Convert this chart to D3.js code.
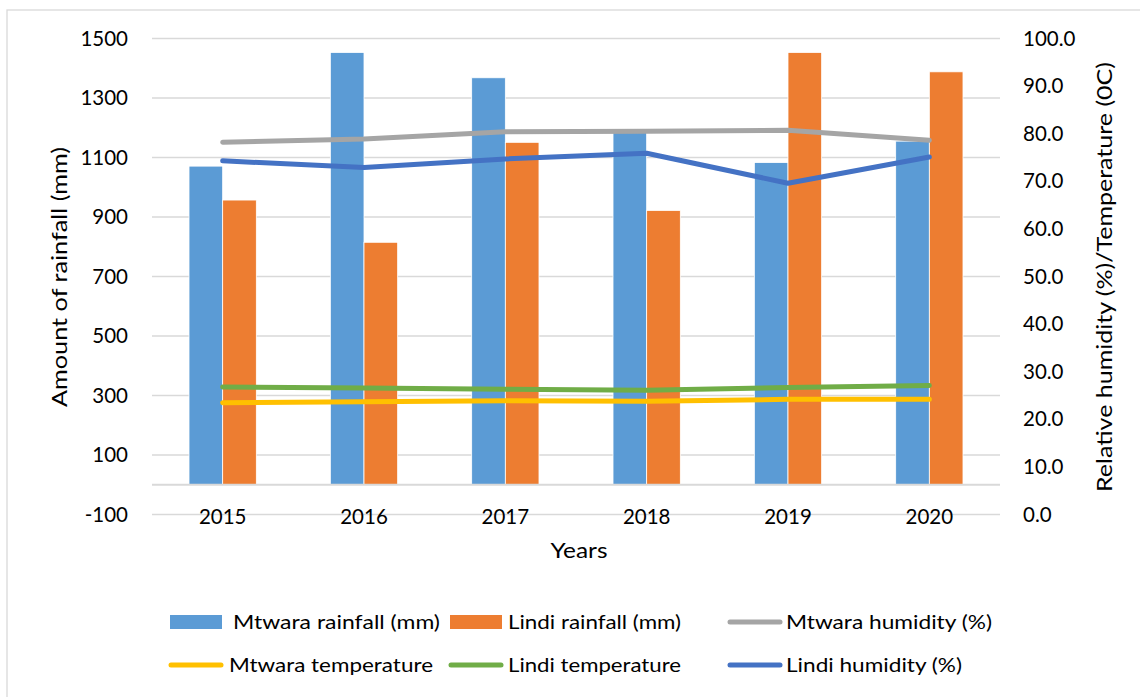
<!DOCTYPE html>
<html>
<head>
<meta charset="utf-8">
<script src="https://cdn.jsdelivr.net/npm/d3@7"></script>
<style>
  html, body { margin: 0; padding: 0; background: #fff; }
  svg { display: block; font-family: Lato, "Open Sans", sans-serif; }
</style>
</head>
<body>
<svg id="chart" width="1140" height="697"></svg>
<script>
// Annual rainfall, humidity and temperature for Mtwara and Lindi
const years = ["2015", "2016", "2017", "2018", "2019", "2020"];
const mtwaraRainfall = [1071, 1453, 1368, 1185, 1083, 1155];
const lindiRainfall = [957, 815, 1151, 922, 1453, 1388];
const mtwaraHumidity = [78.2, 78.9, 80.4, 80.5, 80.7, 78.6];
const lindiHumidity = [74.3, 72.9, 74.7, 75.9, 69.6, 75.1];
const mtwaraTemperature = [23.5, 23.7, 23.9, 23.8, 24.2, 24.2];
const lindiTemperature = [26.8, 26.6, 26.3, 26.1, 26.7, 27.1];
const leftTicks = [-100, 100, 300, 500, 700, 900, 1100, 1300, 1500];
const rightTicks = [0, 10, 20, 30, 40, 50, 60, 70, 80, 90, 100];

const svg = d3.select("#chart");
const plot = { left: 152, right: 1000, top: 38.5, bottom: 514.5 };

// outer frame
svg.append("rect")
  .attr("x", 7).attr("y", 10).attr("width", 1145).attr("height", 700)
  .attr("fill", "none").attr("stroke", "#d9d9d9").attr("stroke-width", 1.3);

const x = d3.scaleBand().domain(years).range([plot.left, plot.right]).padding(0);
const gapRatio = 2.2;
const barW = x.bandwidth() / (2 + gapRatio);
const xs = d3.scaleBand().domain(["mtwara", "lindi"])
  .range([x.bandwidth() / 2 - barW, x.bandwidth() / 2 + barW]);

const yL = d3.scaleLinear().domain([-100, 1500]).range([plot.bottom, plot.top]);
const yR = d3.scaleLinear().domain([0, 100]).range([plot.bottom, plot.top]);

// horizontal gridlines
svg.append("g").selectAll("line").data(leftTicks).join("line")
  .attr("x1", plot.left).attr("x2", plot.right)
  .attr("y1", d => yL(d)).attr("y2", d => yL(d))
  .attr("stroke", "#d9d9d9").attr("stroke-width", 1.5);

// rainfall bars
const barSeries = [
  { key: "mtwara", values: mtwaraRainfall, color: "#5b9bd5" },
  { key: "lindi", values: lindiRainfall, color: "#ed7d31" }
];
barSeries.forEach(s => {
  svg.append("g").selectAll("rect").data(years).join("rect")
    .attr("x", (d) => x(d) + xs(s.key))
    .attr("width", xs.bandwidth())
    .attr("y", (d, i) => yL(s.values[i]))
    .attr("height", (d, i) => yL(0) - yL(s.values[i]))
    .attr("fill", s.color)
    .attr("stroke", "#fff").attr("stroke-width", 0.8);
});

// category axis line at zero
svg.append("line")
  .attr("x1", plot.left).attr("x2", plot.right)
  .attr("y1", yL(0)).attr("y2", yL(0))
  .attr("stroke", "#d9d9d9").attr("stroke-width", 1.8);

// humidity and temperature lines on the secondary axis
const lineSeries = [
  { values: mtwaraHumidity, color: "#a5a5a5" },
  { values: mtwaraTemperature, color: "#ffc000" },
  { values: lindiTemperature, color: "#70ad47" },
  { values: lindiHumidity, color: "#4472c4" }
];
const line = d3.line()
  .x((d, i) => x(years[i]) + x.bandwidth() / 2)
  .y(d => yR(d));
lineSeries.forEach(s => {
  svg.append("path").datum(s.values)
    .attr("d", line)
    .attr("fill", "none").attr("stroke", s.color)
    .attr("stroke-width", 5)
    .attr("stroke-linecap", "round").attr("stroke-linejoin", "round");
});

// left tick labels
svg.append("g").selectAll("text").data(leftTicks).join("text")
  .attr("x", 128).attr("y", d => yL(d))
  .attr("dy", "0.35em").attr("text-anchor", "end")
  .attr("font-size", 20.5).attr("fill", "#000")
  .text(d => d);

// right tick labels
svg.append("g").selectAll("text").data(rightTicks).join("text")
  .attr("x", 1023).attr("y", d => yR(d))
  .attr("dy", "0.35em").attr("text-anchor", "start")
  .attr("font-size", 20.5).attr("fill", "#000")
  .text(d => d3.format(".1f")(d));

// category labels
svg.append("g").selectAll("text").data(years).join("text")
  .attr("x", d => x(d) + x.bandwidth() / 2).attr("y", 517)
  .attr("dy", "0.35em").attr("text-anchor", "middle")
  .attr("font-size", 20.5).attr("fill", "#000")
  .text(d => d);

// axis titles
svg.append("text")
  .attr("transform", "translate(67,277) rotate(-90)")
  .attr("text-anchor", "middle").attr("font-size", 22).attr("fill", "#000")
  .attr("textLength", 260).attr("lengthAdjust", "spacingAndGlyphs")
  .text("Amount of rainfall (mm)");
svg.append("text")
  .attr("transform", "translate(1112,277) rotate(-90)")
  .attr("text-anchor", "middle").attr("font-size", 22).attr("fill", "#000")
  .attr("textLength", 430).attr("lengthAdjust", "spacingAndGlyphs")
  .text("Relative humidity (%)/Temperature (0C)");
svg.append("text")
  .attr("x", 579).attr("y", 558)
  .attr("text-anchor", "middle").attr("font-size", 22).attr("fill", "#000")
  .attr("textLength", 57).attr("lengthAdjust", "spacingAndGlyphs")
  .text("Years");

// legend
const legendItems = [
  { label: "Mtwara rainfall (mm)", color: "#5b9bd5", type: "bar", sx: 170, tx: 233, tw: 207, y: 622 },
  { label: "Lindi rainfall (mm)", color: "#ed7d31", type: "bar", sx: 450, tx: 508, tw: 173, y: 622 },
  { label: "Mtwara humidity (%)", color: "#a5a5a5", type: "line", sx: 728, tx: 786, tw: 206, y: 622 },
  { label: "Mtwara temperature", color: "#ffc000", type: "line", sx: 169, tx: 229, tw: 204, y: 665 },
  { label: "Lindi temperature", color: "#70ad47", type: "line", sx: 449, tx: 508, tw: 173, y: 665 },
  { label: "Lindi humidity (%)", color: "#4472c4", type: "line", sx: 728, tx: 786, tw: 176, y: 665 }
];
const lg = svg.append("g");
legendItems.forEach(it => {
  if (it.type === "bar") {
    lg.append("rect").attr("x", it.sx).attr("y", it.y - 7)
      .attr("width", 52).attr("height", 14).attr("fill", it.color);
  } else {
    lg.append("line").attr("x1", it.sx + 2).attr("x2", it.sx + 52)
      .attr("y1", it.y).attr("y2", it.y)
      .attr("stroke", it.color).attr("stroke-width", 5).attr("stroke-linecap", "round");
  }
  lg.append("text").attr("x", it.tx).attr("y", it.y)
    .attr("dy", "0.35em").attr("font-size", 20).attr("fill", "#000")
    .attr("textLength", it.tw).attr("lengthAdjust", "spacingAndGlyphs")
    .text(it.label);
});
</script>
</body>
</html>
